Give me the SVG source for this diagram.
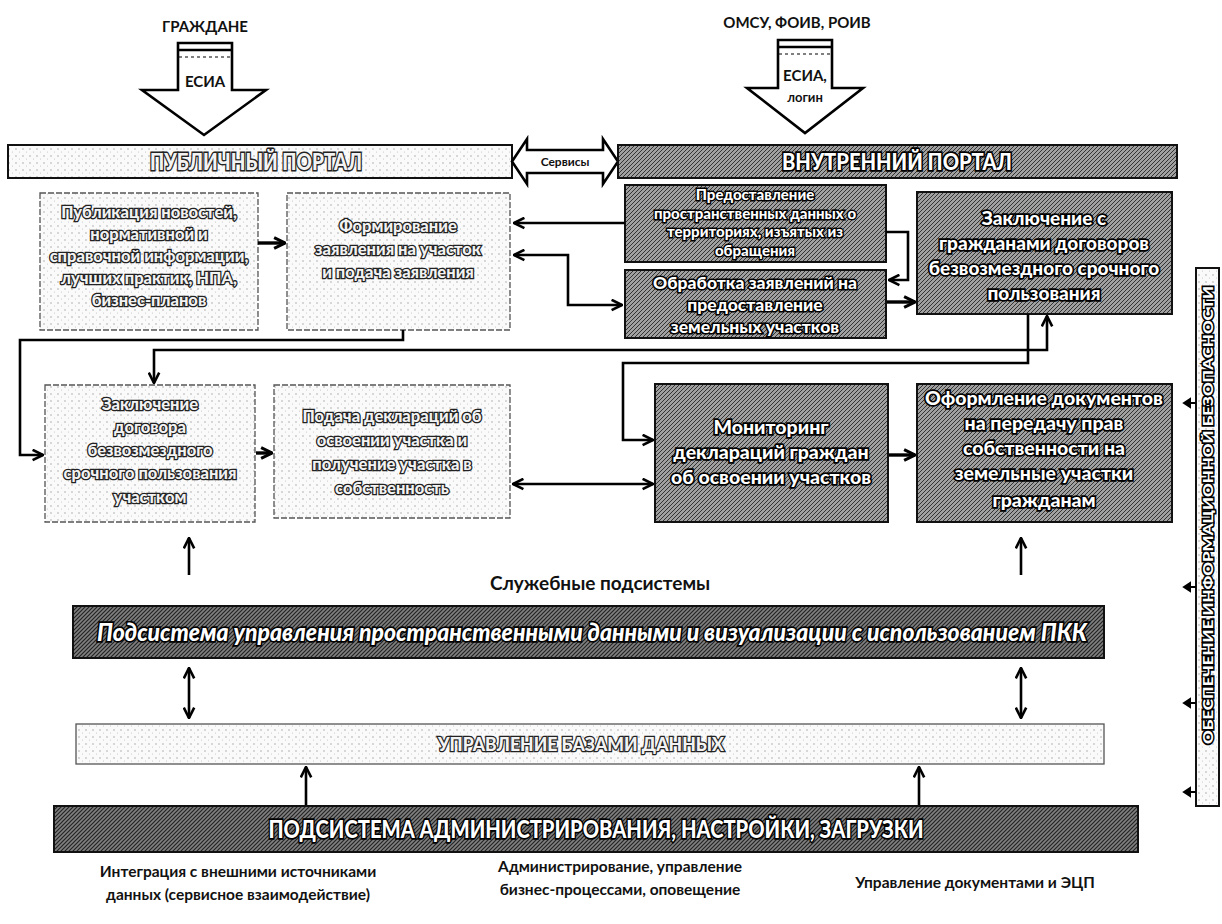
<svg xmlns="http://www.w3.org/2000/svg" width="1222" height="924" viewBox="0 0 1222 924">
<defs>
<pattern id="hatch" width="4" height="4" patternUnits="userSpaceOnUse"><rect width="4" height="4" fill="#a0a0a0"/><path d="M0,4 L4,0 M-1,1 L1,-1 M3,5 L5,3" stroke="#333" stroke-width="1"/></pattern>
<pattern id="hatchDark" width="4" height="4" patternUnits="userSpaceOnUse"><rect width="4" height="4" fill="#808080"/><path d="M0,4 L4,0 M-1,1 L1,-1 M3,5 L5,3" stroke="#222" stroke-width="1.2"/></pattern>
<pattern id="dots" width="7" height="7" patternUnits="userSpaceOnUse"><rect width="7" height="7" fill="#fafafa"/><circle cx="2" cy="2" r="0.7" fill="#999"/><circle cx="5.5" cy="5" r="0.5" fill="#bbb"/></pattern>
<marker id="ah" viewBox="0 0 10 10" refX="9" refY="5" markerWidth="5" markerHeight="5" orient="auto-start-reverse" markerUnits="strokeWidth"><path d="M1,1 L9,5 L1,9" fill="none" stroke="#000" stroke-width="2"/></marker>
<marker id="ahs" viewBox="0 0 10 10" refX="9" refY="5" markerWidth="4" markerHeight="4" orient="auto-start-reverse" markerUnits="strokeWidth"><path d="M1,1 L9,5 L1,9" fill="none" stroke="#000" stroke-width="2.2"/></marker>
</defs>
<style>
.lbl{font-family:Lato,"Open Sans","Noto Sans",sans-serif;font-weight:700;fill:#111;text-anchor:middle}
.lt{font-family:Lato,"Open Sans","Noto Sans",sans-serif;font-weight:900;fill:#f2f2f2;stroke:#222;paint-order:stroke;text-anchor:middle}
.dk{font-family:Lato,"Open Sans","Noto Sans",sans-serif;font-weight:900;fill:#fff;stroke:#000;paint-order:stroke;text-anchor:middle}
.lbox{fill:url(#dots);stroke:#555;stroke-width:1.3;stroke-dasharray:6 2}
.dbox{fill:url(#hatch);stroke:#111;stroke-width:2}
.con{fill:none;stroke:#000;stroke-width:2.6}
.thick{fill:none;stroke:#000;stroke-width:3.4}
.blk{fill:#fff;stroke:#000;stroke-width:2.6;stroke-linejoin:miter}
</style>
<rect width="1222" height="924" fill="#fff"/>

<g id="citizens">
<text class="lbl" x="205" y="32" font-size="15">ГРАЖДАНЕ</text>
<path class="blk" d="M178,43 H232 V90 H266 L204,135 L142,90 H178 Z"/>
<line x1="179" y1="50" x2="231" y2="50" stroke="#000" stroke-width="2.5"/>
<line x1="179" y1="57" x2="231" y2="57" stroke="#000" stroke-width="1" stroke-dasharray="3 3"/>
<text class="lbl" x="205" y="87" font-size="15">ЕСИА</text>
</g>

<g id="officials">
<text class="lbl" x="797" y="28" font-size="15">ОМСУ, ФОИВ, РОИВ</text>
<path class="blk" d="M778,40 H832 V88 H863 L805,133 L747,88 H778 Z"/>
<line x1="779" y1="47" x2="831" y2="47" stroke="#000" stroke-width="2.5"/>
<line x1="779" y1="54" x2="831" y2="54" stroke="#000" stroke-width="1" stroke-dasharray="3 3"/>
<text class="lbl" x="805" y="81" font-size="15">ЕСИА,</text>
<text class="lbl" x="805" y="102" font-size="13">логин</text>
</g>

<g id="public-portal">
<rect x="8" y="145" width="504" height="33" fill="url(#dots)" stroke="#111" stroke-width="2"/>
<text class="lt" x="256" y="170" font-size="22" stroke-width="2.8" textLength="212" lengthAdjust="spacingAndGlyphs">ПУБЛИЧНЫЙ ПОРТАЛ</text>
</g>

<g id="services">
<path class="blk" d="M512,161.5 L527,139 V150 H603 V139 L618,161.5 L603,184 V173 H527 V184 Z"/>
<text class="lbl" x="565" y="166" font-size="12" font-weight="400">Сервисы</text>
</g>

<g id="internal-portal">
<rect x="618" y="145" width="559" height="33" fill="url(#hatch)" stroke="#111" stroke-width="2"/>
<text class="dk" x="897" y="170" font-size="22" stroke-width="3.4" textLength="230" lengthAdjust="spacingAndGlyphs">ВНУТРЕННИЙ ПОРТАЛ</text>
</g>

<g id="box-publication" font-size="16.5" stroke-width="2.6">
<rect class="lbox" x="40" y="193" width="218" height="137"/>
<text class="lt" x="149" y="218">Публикация новостей,</text>
<text class="lt" x="149" y="240">нормативной и</text>
<text class="lt" x="149" y="262">справочной информации,</text>
<text class="lt" x="149" y="284">лучших практик, НПА,</text>
<text class="lt" x="149" y="306">бизнес-планов</text>
</g>

<g id="box-application" font-size="16.5" stroke-width="2.6">
<rect class="lbox" x="287" y="193" width="223" height="137"/>
<text class="lt" x="398" y="232">Формирование</text>
<text class="lt" x="398" y="255">заявления на участок</text>
<text class="lt" x="398" y="278">и подача заявления</text>
</g>

<g id="box-spatial" font-size="15" stroke-width="2.8">
<rect class="dbox" x="625" y="185" width="261" height="77"/>
<text class="dk" x="755" y="200">Предоставление</text>
<text class="dk" x="755" y="218.5">пространственных данных о</text>
<text class="dk" x="755" y="237">территориях, изъятых из</text>
<text class="dk" x="755" y="255.5">обращения</text>
</g>

<g id="box-processing" font-size="17.5" stroke-width="3.2">
<rect class="dbox" x="625" y="270" width="261" height="68"/>
<text class="dk" x="755" y="289">Обработка заявлений на</text>
<text class="dk" x="755" y="311">предоставление</text>
<text class="dk" x="755" y="333">земельных участков</text>
</g>

<g id="box-contract-internal" font-size="19" stroke-width="3.4">
<rect class="dbox" x="917" y="192" width="255" height="122"/>
<text class="dk" x="1044" y="225">Заключение с</text>
<text class="dk" x="1044" y="250">гражданами договоров</text>
<text class="dk" x="1044" y="275">безвозмездного срочного</text>
<text class="dk" x="1044" y="300">пользования</text>
</g>

<g id="box-contract-public" font-size="16.5" stroke-width="2.6">
<rect class="lbox" x="45" y="385" width="210" height="137"/>
<text class="lt" x="150" y="410">Заключение</text>
<text class="lt" x="150" y="433">договора</text>
<text class="lt" x="150" y="456">безвозмездного</text>
<text class="lt" x="150" y="479">срочного пользования</text>
<text class="lt" x="150" y="503">участком</text>
</g>

<g id="box-declaration" font-size="16.5" stroke-width="2.6">
<rect class="lbox" x="274" y="385" width="236" height="133"/>
<text class="lt" x="392" y="422">Подача деклараций об</text>
<text class="lt" x="392" y="446">освоении участка и</text>
<text class="lt" x="392" y="470">получение участка в</text>
<text class="lt" x="392" y="494">собственность</text>
</g>

<g id="box-monitoring" font-size="19.5" stroke-width="3.4">
<rect class="dbox" x="655" y="384" width="233" height="138"/>
<text class="dk" x="771" y="434">Мониторинг</text>
<text class="dk" x="771" y="459">деклараций граждан</text>
<text class="dk" x="771" y="484">об освоении участков</text>
</g>

<g id="box-ownership" font-size="19.5" stroke-width="3.4">
<rect class="dbox" x="917" y="384" width="255" height="138"/>
<text class="dk" x="1044" y="405">Оформление документов</text>
<text class="dk" x="1044" y="430">на передачу прав</text>
<text class="dk" x="1044" y="455">собственности на</text>
<text class="dk" x="1044" y="480">земельные участки</text>
<text class="dk" x="1044" y="507">гражданам</text>
</g>

<g id="service-title">
<text class="lbl" x="600" y="590" font-size="19" font-weight="600">Служебные подсистемы</text>
</g>

<g id="spatial-subsystem">
<rect x="73" y="606" width="1031" height="52" fill="url(#hatchDark)" stroke="#111" stroke-width="2"/>
<text class="dk" x="592" y="641" font-size="25" font-weight="400" font-style="italic" stroke-width="3.4" textLength="990" lengthAdjust="spacingAndGlyphs">Подсистема управления пространственными данными и визуализации с использованием ПКК</text>
</g>

<g id="database">
<rect x="76" y="724" width="1028" height="40" fill="url(#dots)" stroke="#555" stroke-width="1.3"/>
<text class="lt" x="581" y="751" font-size="19" stroke-width="2.6" textLength="286" lengthAdjust="spacingAndGlyphs">УПРАВЛЕНИЕ БАЗАМИ ДАННЫХ</text>
</g>

<g id="admin-subsystem">
<rect x="54" y="806" width="1084" height="46" fill="url(#hatchDark)" stroke="#111" stroke-width="2"/>
<text class="dk" x="596" y="838" font-size="25" stroke-width="3.4" textLength="655" lengthAdjust="spacingAndGlyphs">ПОДСИСТЕМА АДМИНИСТРИРОВАНИЯ, НАСТРОЙКИ, ЗАГРУЗКИ</text>
</g>

<g id="admin-notes">
<text class="lbl" x="238" y="877" font-size="15.5">Интеграция с внешними источниками</text>
<text class="lbl" x="238" y="900" font-size="15.5">данных (сервисное взаимодействие)</text>
<text class="lbl" x="620" y="872" font-size="15.5">Администрирование, управление</text>
<text class="lbl" x="620" y="895" font-size="15.5">бизнес-процессами, оповещение</text>
<text class="lbl" x="975" y="888" font-size="15.5">Управление документами и ЭЦП</text>
</g>

<g id="security">
<rect x="1196" y="268" width="23" height="538" fill="url(#dots)" stroke="#111" stroke-width="2"/>
<text class="dk" transform="translate(1213,515) rotate(-90)" x="0" y="0" font-size="14" stroke-width="3" textLength="458" lengthAdjust="spacingAndGlyphs">ОБЕСПЕЧЕНИЕ ИНФОРМАЦИОННОЙ БЕЗОПАСНОСТИ</text>
</g>

<g id="connectors">
<line class="thick" x1="258" y1="243" x2="285" y2="243" marker-end="url(#ahs)"/>
<line class="con" x1="625" y1="223" x2="514" y2="223" marker-end="url(#ah)"/>
<path class="con" d="M514,255 H568 V305 H622" marker-start="url(#ah)" marker-end="url(#ah)"/>
<path class="con" d="M886,232 H908 V280 H889" marker-end="url(#ah)"/>
<line class="thick" x1="887" y1="302" x2="915" y2="302" marker-end="url(#ahs)"/>
<path class="con" d="M403,330 V340 H20 V455 H43" marker-end="url(#ah)"/>
<path class="con" d="M154,383 V350 H1047 V316" marker-start="url(#ah)" marker-end="url(#ah)"/>
<path class="con" d="M1028,314 V363 H623 V440 H653" marker-end="url(#ah)"/>
<line class="thick" x1="256" y1="453" x2="272" y2="453" marker-end="url(#ahs)"/>
<line class="con" x1="513" y1="484" x2="653" y2="484" marker-start="url(#ah)" marker-end="url(#ah)"/>
<line class="thick" x1="889" y1="455" x2="915" y2="455" marker-end="url(#ahs)"/>
<line class="con" x1="189" y1="575" x2="189" y2="538" marker-end="url(#ah)"/>
<line class="con" x1="1021" y1="575" x2="1021" y2="538" marker-end="url(#ah)"/>
<line class="con" x1="189" y1="668" x2="189" y2="718" marker-start="url(#ah)" marker-end="url(#ah)"/>
<line class="con" x1="1021" y1="668" x2="1021" y2="718" marker-start="url(#ah)" marker-end="url(#ah)"/>
<line class="con" x1="306" y1="805" x2="306" y2="767" marker-end="url(#ah)"/>
<line class="con" x1="919" y1="805" x2="919" y2="767" marker-end="url(#ah)"/>
<g fill="#000" stroke="#000" stroke-width="2">
<line x1="1189" y1="403" x2="1196" y2="403"/><path d="M1184,403 L1190,399 L1190,407 Z"/>
<line x1="1189" y1="587" x2="1196" y2="587"/><path d="M1184,587 L1190,583 L1190,591 Z"/>
<line x1="1189" y1="703" x2="1196" y2="703"/><path d="M1184,703 L1190,699 L1190,707 Z"/>
<line x1="1189" y1="792" x2="1196" y2="792"/><path d="M1184,792 L1190,788 L1190,796 Z"/>
</g>
</g>
</svg>
